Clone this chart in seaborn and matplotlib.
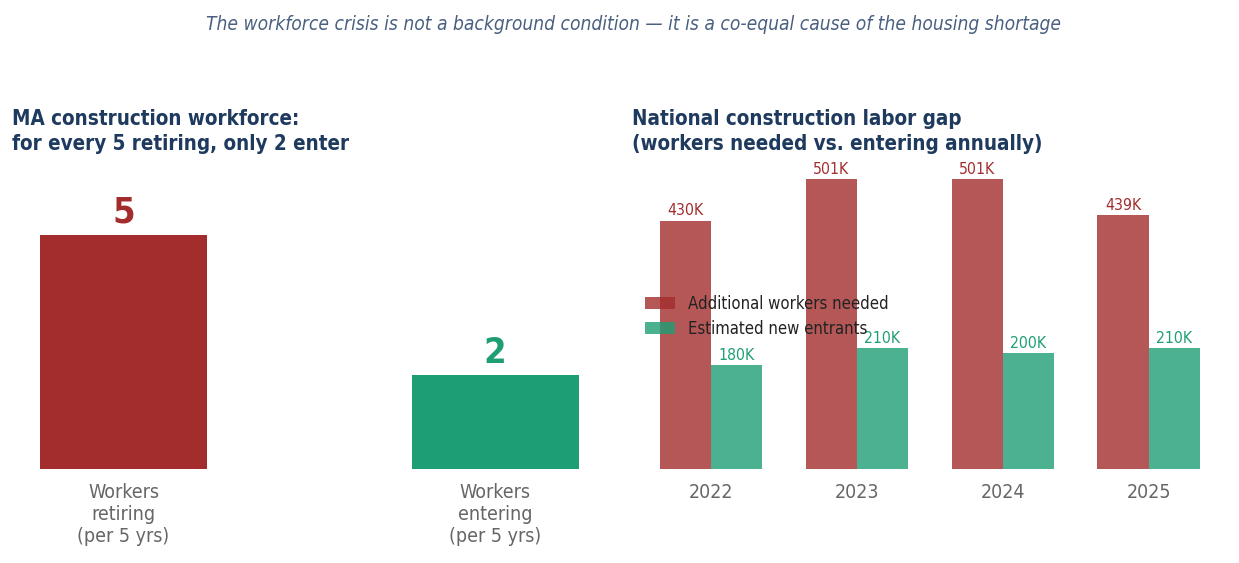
import pandas as pd
import seaborn as sns
import matplotlib.pyplot as plt

# data
ma_labels = ['Workers\nretiring\n(per 5 yrs)', 'Workers\nentering\n(per 5 yrs)']
ma_values = [5, 2]

years = ['2022', '2023', '2024', '2025']
needed = [430, 501, 501, 439]
entrants = [180, 210, 200, 210]
series_names = ['Additional workers needed', 'Estimated new entrants']

RED = '#A32D2D'
GREEN = '#1E9E75'
NAVY = '#1F3A5F'
GRAY = '#666666'

sns.set_style('white')
plt.rcParams['font.family'] = ['DejaVu Sans']
plt.rcParams['font.stretch'] = 'condensed'

fig = plt.figure(figsize=(12.39, 5.63), dpi=100)
ax1 = fig.add_axes([0.0097, 0.167, 0.480, 0.545])
ax2 = fig.add_axes([0.510, 0.167, 0.480, 0.545])

# left panel: MA ratio
df_ma = pd.DataFrame({'label': ma_labels, 'value': ma_values})
sns.barplot(data=df_ma, x='label', y='value', hue='label', palette=[RED, GREEN],
            width=0.45, saturation=1, legend=False, ax=ax1, linewidth=0)
for cont, col in zip(ax1.containers, [RED, GREEN]):
    ax1.bar_label(cont, fmt='%d', padding=4, color=col, fontsize=26, fontweight='bold')
ax1.set_xlim(-0.3, 1.3)
ax1.set_ylim(0, 6.55)
ax1.set_title('MA construction workforce:\nfor every 5 retiring, only 2 enter',
              loc='left', fontsize=14.8, fontweight='bold', color=NAVY, pad=9,
              linespacing=1.3)

# right panel: national gap
df_nat = pd.DataFrame({
    'year': years * 2,
    'value': needed + entrants,
    'series': [series_names[0]] * 4 + [series_names[1]] * 4,
})
sns.barplot(data=df_nat, x='year', y='value', hue='series', palette=[RED, GREEN],
            width=0.7, alpha=0.8, saturation=1, ax=ax2, linewidth=0)
for cont, col in zip(ax2.containers, [RED, GREEN]):
    ax2.bar_label(cont, labels=[f'{int(v)}K' for v in cont.datavalues],
                  padding=1.5, color=col, fontsize=11.3)
ax2.set_xlim(-0.54, 3.535)
ax2.set_ylim(0, 531)
ax2.set_title('National construction labor gap\n(workers needed vs. entering annually)',
              loc='left', fontsize=14.8, fontweight='bold', color=NAVY, pad=9,
              linespacing=1.3)
ax2.legend(loc='center left', bbox_to_anchor=(-0.003, 0.497), frameon=False, fontsize=12,
           handlelength=1.8, labelspacing=0.4, labelcolor='#222222')

for ax in (ax1, ax2):
    ax.set_xlabel('')
    ax.set_ylabel('')
    ax.set_yticks([])
    sns.despine(ax=ax, left=True, bottom=True)
    ax.tick_params(axis='x', length=0, pad=10, labelsize=14, labelcolor=GRAY)

fig.suptitle('The workforce crisis is not a background condition \u2014 it is a co-equal cause of the housing shortage',
             x=0.511, y=0.974, fontsize=13.8, style='italic', color='#4A6080')

fig.savefig('out.png', dpi=100)
